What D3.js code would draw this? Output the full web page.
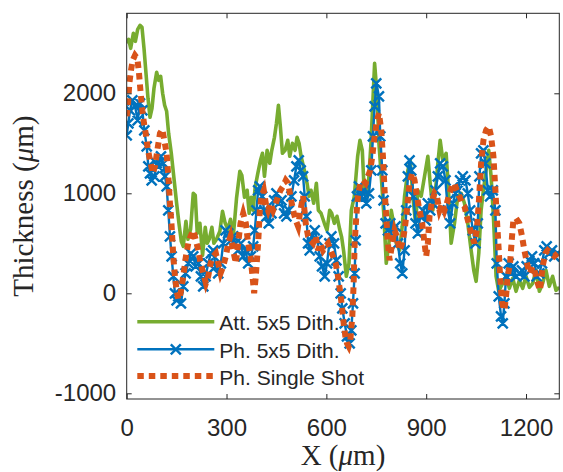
<!DOCTYPE html>
<html>
<head>
<meta charset="utf-8">
<script src="https://cdn.jsdelivr.net/npm/d3@7/dist/d3.min.js"></script>
<style>
  body { margin: 0; background: #fff; }
  .tick text { font-family: "Liberation Sans", Arial, sans-serif; font-size: 24px; fill: #262626; }
  .tick line { stroke: #262626; }
  .axis-title { font-family: "Liberation Serif", "Times New Roman", serif; font-size: 29px; fill: #262626; }
  .legend-text { font-family: "Liberation Sans", Arial, sans-serif; font-size: 21px; fill: #262626; }
</style>
</head>
<body>
<div id="chart"></div>
<script>

// thickness profiles, x in um, thickness in um
var attX = [0,6,12,20,26,33,40,46,52,58,64,70,76,82,90,96,102,108,114,120,126,134,142,150,157,164,170,178,184,192,200,206,212,220,228,236,242,248,256,262,270,280,288,296,304,312,320,330,340,346,354,362,368,374,380,386,394,402,408,414,422,430,436,444,450,456,462,468,476,484,490,498,506,512,518,524,534,542,548,554,562,570,576,584,594,602,610,616,624,632,640,646,652,660,668,675,684,694,701,708,714,724,734,745,752,758,765,773,780,788,795,802,810,820,828,835,845,852,860,868,875,885,895,905,912,920,928,935,942,950,960,968,975,985,995,1005,1015,1025,1035,1043,1050,1058,1065,1072,1080,1088,1095,1102,1110,1118,1130,1140,1150,1160,1170,1180,1190,1200,1210,1220,1230,1240,1250,1260,1270,1280,1290,1300];
var attY = [2500,2540,2450,2600,2520,2640,2680,2660,2450,2200,1950,1760,1850,2050,2210,2130,2170,2000,1880,1820,1600,1400,1150,900,700,520,470,720,540,640,1000,980,600,700,380,660,500,540,660,500,540,620,820,700,640,740,560,950,1220,1180,960,1030,800,960,830,1060,1200,1330,1400,1170,1430,1300,1430,1560,1700,1880,1660,1400,1430,1530,1370,1500,1430,1560,1500,1370,1230,1100,970,1030,900,1100,830,800,700,630,830,800,700,770,640,560,420,170,300,830,970,1370,1530,1430,1000,970,1500,2300,2000,1500,1170,770,300,500,830,700,500,430,670,970,1230,1330,970,700,1030,970,1170,1370,1100,830,1030,1300,1530,1330,1400,970,500,700,970,1000,900,700,430,230,120,400,830,1030,1230,1430,1170,770,170,20,100,170,50,150,20,130,50,170,60,100,230,20,100,230,70,170,30,60];

var phX = [0,5,10,17,25,33,40,47,53,60,65,70,75,83,90,95,103,110,115,120,125,130,135,140,145,150,155,163,170,177,185,193,200,207,215,223,230,237,245,253,260,267,275,283,290,297,305,313,320,327,335,343,350,357,365,373,380,385,390,395,400,407,413,420,427,435,443,450,457,465,473,480,487,495,503,510,517,523,530,535,540,545,550,557,565,573,580,587,595,602,609,615,623,630,637,643,648,655,662,670,675,680,685,688,692,698,705,712,720,728,735,740,745,750,758,762,768,772,778,785,792,800,808,815,822,828,835,840,845,850,855,862,868,875,882,890,898,905,912,920,928,935,942,950,958,965,972,980,988,995,1002,1010,1018,1025,1032,1040,1048,1055,1060,1065,1072,1078,1085,1092,1100,1108,1112,1118,1125,1130,1135,1140,1148,1155,1162,1170,1180,1188,1195,1202,1210,1218,1225,1232,1240,1248,1255,1262,1270,1278,1285,1295];
var phY = [1580,1700,1830,1930,1870,1730,1900,1830,1630,1470,1270,1200,1130,1170,1300,1270,1370,1300,1170,1070,830,570,370,170,0,-70,-30,-100,70,200,300,400,370,270,300,170,70,170,300,400,430,270,200,300,500,630,600,530,570,500,430,500,370,430,300,370,470,630,830,1030,1070,970,830,770,700,800,930,1000,900,930,800,770,830,970,1130,1270,1330,1230,1170,970,770,500,430,570,630,530,370,270,170,300,500,570,500,330,170,0,-150,-300,-430,-500,-370,-100,200,530,970,1070,970,1030,900,1000,1230,1570,1870,2100,1970,1570,1230,930,700,630,700,630,670,500,300,200,430,830,1170,1330,1230,970,700,600,770,830,730,900,830,900,1030,1170,1300,1270,1130,830,700,900,1000,1030,1130,1170,1130,1000,830,630,500,700,1170,1400,1430,1300,1030,970,1030,830,300,-30,-230,-300,-100,170,300,200,270,170,200,230,170,270,330,370,300,170,200,300,430,470,400,430,370,400];

var ssX = [0,4,8,13,18,25,32,37,42,47,52,57,64,72,78,85,92,100,107,113,120,125,130,135,140,145,150,155,162,170,178,185,192,200,208,215,222,230,238,245,252,260,268,275,282,290,298,305,312,320,328,335,342,350,358,365,372,378,383,388,395,400,405,412,418,425,432,440,448,455,462,470,478,485,492,500,508,515,522,530,538,545,552,560,568,575,582,590,598,605,612,620,628,635,642,648,652,657,662,667,672,678,682,685,690,695,702,710,718,725,732,738,745,752,758,765,770,775,780,785,790,798,805,812,820,828,835,842,850,858,865,872,880,888,895,900,905,910,918,925,932,940,948,955,962,970,978,985,992,1000,1008,1015,1022,1030,1038,1045,1052,1058,1065,1072,1080,1088,1095,1102,1108,1112,1118,1122,1128,1135,1140,1145,1152,1158,1162,1170,1180,1188,1195,1205,1212,1220,1228,1235,1242,1250,1258,1265,1275,1285,1295];
var ssY = [1770,1900,2100,2230,2330,2380,2350,2200,2000,1830,1700,1600,1430,1300,1200,1270,1430,1600,1640,1530,1400,1170,900,670,370,170,30,-60,0,170,370,500,570,630,530,430,300,200,100,170,300,370,400,300,200,270,370,500,570,430,300,500,700,800,700,500,370,170,0,170,500,830,970,1030,900,830,900,830,900,970,1030,1070,1130,1100,970,830,730,670,830,970,700,570,530,500,570,430,500,430,470,500,430,370,300,170,0,-170,-300,-430,-500,-530,-470,-230,100,500,770,970,1100,1130,1100,1170,1230,1370,1570,1730,1800,1630,1370,1030,770,500,330,500,630,570,430,500,630,830,1100,1200,1130,970,830,700,500,370,500,770,930,1000,970,830,900,830,900,1000,1070,1100,1030,970,900,870,770,670,570,500,630,900,1300,1530,1630,1670,1570,1370,1030,770,430,170,-100,-170,-30,170,300,570,730,750,700,570,430,270,200,270,200,100,30,270,400,430,400,370,400];

var xTicks = [0, 300, 600, 900, 1200];
var yTicks = [-1000, 0, 1000, 2000];
var legendLabels = ['Att. 5x5 Dith.', 'Ph. 5x5 Dith.', 'Ph. Single Shot'];

var width = 563, height = 472;
var margin = {left: 126.7, right: 3.7, top: 13.3, bottom: 73};
var plotW = width - margin.left - margin.right;
var plotH = height - margin.top - margin.bottom;

var green = '#77AC30', blue = '#0072BD', orange = '#D95319';
var axisColor = '#262626';

var svg = d3.select('#chart').append('svg')
  .attr('width', width)
  .attr('height', height);

var g = svg.append('g')
  .attr('transform', 'translate(' + margin.left + ',' + margin.top + ')');

var x = d3.scaleLinear().domain([0, 1300]).range([0, plotW]);
var y = d3.scaleLinear().domain([-1057, 2800]).range([plotH, 0]);

// clip everything to the axes box
g.append('clipPath').attr('id', 'plot-clip')
  .append('rect')
    .attr('width', plotW)
    .attr('height', plotH);

function zip(xs, ys) {
  return xs.map(function(d, i) { return [d, ys[i]]; });
}

var line = d3.line()
  .x(function(d) { return x(d[0]); })
  .y(function(d) { return y(d[1]); });

var plot = g.append('g').attr('clip-path', 'url(#plot-clip)');

plot.append('path')
  .datum(zip(attX, attY))
  .attr('d', line)
  .attr('fill', 'none')
  .attr('stroke', green)
  .attr('stroke-width', 3.6)
  .attr('stroke-linejoin', 'round');

var phData = zip(phX, phY);
plot.append('path')
  .datum(phData)
  .attr('d', line)
  .attr('fill', 'none')
  .attr('stroke', blue)
  .attr('stroke-width', 2.4)
  .attr('stroke-linejoin', 'round');

// x markers on every point
var m = 5;
function crossPath(cx, cy) {
  return 'M' + (cx - m) + ',' + (cy - m) + 'L' + (cx + m) + ',' + (cy + m) +
         'M' + (cx - m) + ',' + (cy + m) + 'L' + (cx + m) + ',' + (cy - m);
}
plot.append('path')
  .attr('d', phData.map(function(d) { return crossPath(x(d[0]), y(d[1])); }).join(''))
  .attr('fill', 'none')
  .attr('stroke', blue)
  .attr('stroke-width', 2.4);

plot.append('path')
  .datum(zip(ssX, ssY))
  .attr('d', line)
  .attr('fill', 'none')
  .attr('stroke', orange)
  .attr('stroke-width', 6)
  .attr('stroke-dasharray', '6.5,5');

// axes: inward ticks on all four sides, labels bottom and left
var tickLen = 5;
g.append('g')
  .attr('transform', 'translate(0,' + plotH + ')')
  .call(d3.axisBottom(x).tickValues(xTicks).tickSizeInner(-tickLen).tickSizeOuter(0)
    .tickPadding(20).tickFormat(function(d) { return String(d); }))
  .call(function(a) { a.select('.domain').remove(); });

g.append('g')
  .call(d3.axisTop(x).tickValues(xTicks).tickSizeInner(-tickLen).tickSizeOuter(0)
    .tickFormat(''))
  .call(function(a) { a.select('.domain').remove(); });

g.append('g')
  .call(d3.axisLeft(y).tickValues(yTicks).tickSizeInner(-tickLen).tickSizeOuter(0)
    .tickPadding(10.5).tickFormat(function(d) { return String(d); }))
  .call(function(a) { a.select('.domain').remove(); });

g.append('g')
  .attr('transform', 'translate(' + plotW + ',0)')
  .call(d3.axisRight(y).tickValues(yTicks).tickSizeInner(-tickLen).tickSizeOuter(0)
    .tickFormat(''))
  .call(function(a) { a.select('.domain').remove(); });

g.selectAll('.tick text').attr('font-size', null).attr('font-family', null);

g.append('rect')
  .attr('width', plotW)
  .attr('height', plotH)
  .attr('fill', 'none')
  .attr('stroke', axisColor)
  .attr('stroke-width', 1);

// axis titles
var xTitle = svg.append('text')
  .attr('class', 'axis-title')
  .attr('x', margin.left + plotW / 2)
  .attr('y', 465)
  .attr('text-anchor', 'middle');
xTitle.append('tspan').text('X (');
xTitle.append('tspan').attr('font-style', 'italic').text('μ');
xTitle.append('tspan').text('m)');

var yTitle = svg.append('text')
  .attr('class', 'axis-title')
  .attr('transform', 'translate(33,' + (margin.top + plotH / 2) + ') rotate(-90)')
  .attr('text-anchor', 'middle');
yTitle.append('tspan').text('Thickness (');
yTitle.append('tspan').attr('font-style', 'italic').text('μ');
yTitle.append('tspan').text('m)');

// legend
var legX1 = 137.3, legX2 = 214.3, legText = 219.3;
var legY = [321.7, 349.3, 376];
var legend = svg.append('g');

legend.append('line')
  .attr('x1', legX1).attr('x2', legX2)
  .attr('y1', legY[0]).attr('y2', legY[0])
  .attr('stroke', green).attr('stroke-width', 3.6);

legend.append('line')
  .attr('x1', legX1).attr('x2', legX2)
  .attr('y1', legY[1]).attr('y2', legY[1])
  .attr('stroke', blue).attr('stroke-width', 2.4);
legend.append('path')
  .attr('d', crossPath((legX1 + legX2) / 2, legY[1]))
  .attr('stroke', blue).attr('stroke-width', 2.4);

legend.append('line')
  .attr('x1', legX1).attr('x2', legX2)
  .attr('y1', legY[2]).attr('y2', legY[2])
  .attr('stroke', orange).attr('stroke-width', 6)
  .attr('stroke-dasharray', '6.5,5');

legend.selectAll('text.legend-text')
  .data(legendLabels)
  .enter()
  .append('text')
    .attr('class', 'legend-text')
    .attr('x', legText)
    .attr('y', function(d, i) { return legY[i] + 8.5; })
    .text(function(d) { return d; });

</script>
</body>
</html>
